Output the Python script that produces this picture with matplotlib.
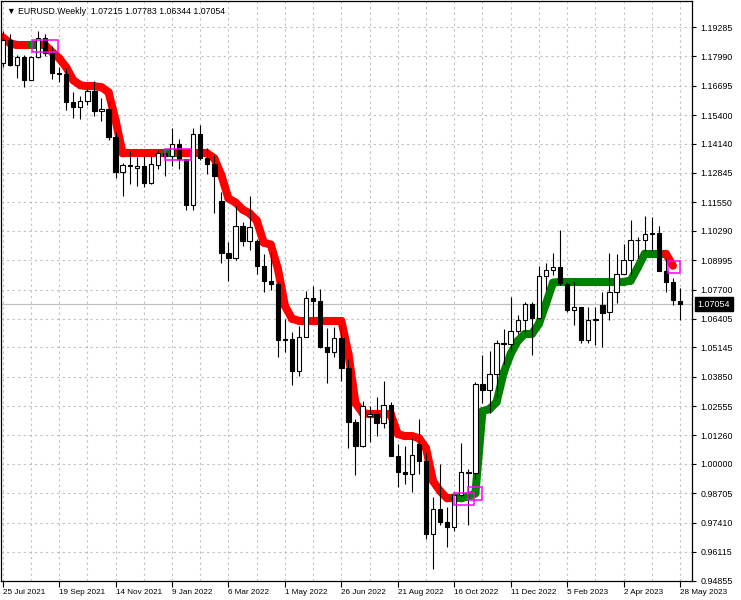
import numpy as np
import matplotlib
matplotlib.use('Agg')
import matplotlib.pyplot as plt
from matplotlib.collections import LineCollection
from matplotlib.patches import Rectangle
import matplotlib.transforms as mtransforms

plt.rcParams['font.family'] = ['Liberation Sans', 'DejaVu Sans']

# weekly EURUSD candles, 25 Jul 2021 .. 28 May 2023
opens = [1.1771, 1.1870, 1.1762, 1.1795, 1.1697, 1.1795, 1.1882, 1.1813, 1.1726, 1.1720,
         1.1596, 1.1574, 1.1603, 1.1645, 1.1558, 1.1567, 1.1444, 1.1288, 1.1318, 1.1308,
         1.1317, 1.1240, 1.1318, 1.1372, 1.1360, 1.1412, 1.1344, 1.1145, 1.1456, 1.1349,
         1.1322, 1.1160, 1.0930, 1.0911, 1.1050, 1.0985, 1.0985, 1.0875, 1.0808, 1.0795,
         1.0545, 1.0550, 1.0412, 1.0562, 1.0732, 1.0720, 1.0518, 1.0495, 1.0555, 1.0425,
         1.0185, 1.0080, 1.0212, 1.0222, 1.0181, 1.0259, 1.0036, 0.9965, 0.9955, 1.0090,
         1.0015, 0.9690, 0.9800, 0.9743, 0.9722, 0.9862, 0.9966, 0.9960, 1.0355, 1.0325,
         1.0398, 1.0535, 1.0530, 1.0585, 1.0635, 1.0705, 1.0645, 1.0830, 1.0857, 1.0870,
         1.0795, 1.0680, 1.0695, 1.0547, 1.0635, 1.0700, 1.0670, 1.0760, 1.0838, 1.0900,
         1.0990, 1.0988, 1.1015, 1.1020, 1.0850, 1.0805, 1.07215]
highs = [1.1909, 1.1900, 1.1805, 1.1805, 1.1802, 1.1909, 1.1900, 1.1846, 1.1753, 1.1750,
         1.1640, 1.1624, 1.1669, 1.1692, 1.1616, 1.1600, 1.1464, 1.1330, 1.1383, 1.1355,
         1.1360, 1.1359, 1.1386, 1.1376, 1.1482, 1.1436, 1.1347, 1.1483, 1.1495, 1.1395,
         1.1366, 1.1200, 1.0980, 1.1137, 1.1070, 1.1185, 1.0995, 1.0925, 1.0936, 1.0805,
         1.0641, 1.0581, 1.0607, 1.0765, 1.0787, 1.0774, 1.0602, 1.0606, 1.0615, 1.0465,
         1.0200, 1.0279, 1.0255, 1.0294, 1.0368, 1.0273, 1.0090, 1.0079, 1.0113, 1.0198,
         1.0050, 0.9852, 0.9999, 0.9809, 0.9875, 1.0094, 0.9976, 1.0363, 1.0481, 1.0497,
         1.0545, 1.0595, 1.0736, 1.0658, 1.0713, 1.0713, 1.0875, 1.0887, 1.0930, 1.1033,
         1.0805, 1.0805, 1.0695, 1.0694, 1.0693, 1.0760, 1.0930, 1.0925, 1.0973, 1.1076,
         1.1000, 1.1095, 1.1092, 1.1050, 1.0905, 1.0820, 1.07783]
lows = [1.1752, 1.1755, 1.1705, 1.1664, 1.1693, 1.1790, 1.1802, 1.1700, 1.1686, 1.1563,
        1.1528, 1.1523, 1.1585, 1.1535, 1.1513, 1.1431, 1.1263, 1.1185, 1.1235, 1.1226,
        1.1221, 1.1235, 1.1301, 1.1272, 1.1314, 1.1302, 1.1121, 1.1121, 1.1341, 1.1280,
        1.1106, 1.0885, 1.0806, 1.0900, 1.0962, 1.0945, 1.0838, 1.0757, 1.0770, 1.0472,
        1.0492, 1.0349, 1.0389, 1.0560, 1.0627, 1.0510, 1.0359, 1.0470, 1.0365, 1.0072,
        0.9952, 1.0075, 1.0097, 1.0123, 1.0159, 1.0035, 0.9900, 0.9910, 0.9877, 0.9956,
        0.9670, 0.9536, 0.9730, 0.9632, 0.9705, 0.9853, 0.9730, 0.9935, 1.0270, 1.0223,
        1.0289, 1.0443, 1.0500, 1.0575, 1.0580, 1.0482, 1.0640, 1.0766, 1.0835, 1.0790,
        1.0670, 1.0613, 1.0533, 1.0535, 1.0525, 1.0516, 1.0634, 1.0712, 1.0838, 1.0832,
        1.0910, 1.0942, 1.0940, 1.0850, 1.0760, 1.0700, 1.06344]
closes = [1.1870, 1.1762, 1.1795, 1.1697, 1.1795, 1.1882, 1.1813, 1.1726, 1.1720, 1.1596,
          1.1574, 1.1603, 1.1645, 1.1558, 1.1567, 1.1444, 1.1288, 1.1318, 1.1315, 1.1317,
          1.1240, 1.1324, 1.1372, 1.1360, 1.1412, 1.1344, 1.1145, 1.1456, 1.1349, 1.1322,
          1.1270, 1.0930, 1.0911, 1.1050, 1.0985, 1.1045, 1.0875, 1.0808, 1.0795, 1.0545,
          1.0550, 1.0412, 1.0562, 1.0732, 1.0720, 1.0518, 1.0495, 1.0555, 1.0425, 1.0185,
          1.0080, 1.0255, 1.0222, 1.0181, 1.0259, 1.0036, 0.9965, 0.9955, 1.0040, 1.0015,
          0.9690, 0.9800, 0.9743, 0.9722, 0.9862, 0.9966, 0.9960, 1.0355, 1.0325, 1.0398,
          1.0535, 1.0530, 1.0585, 1.0635, 1.0705, 1.0645, 1.0830, 1.0857, 1.0870, 1.0800,
          1.0680, 1.0695, 1.0547, 1.0635, 1.0640, 1.0665, 1.0760, 1.0838, 1.0900, 1.0990,
          1.0988, 1.1015, 1.1020, 1.0850, 1.0805, 1.0722, 1.07054]

# trend line (one value per bar, last bar has none)
trend = [1.1884, 1.1858, 1.1849, 1.1849, 1.1849, 1.1849, 1.1849, 1.1818, 1.1791, 1.1751,
         1.1694, 1.1672, 1.1667, 1.1667, 1.1663, 1.1641, 1.1517, 1.1371, 1.1371, 1.1371,
         1.1371, 1.1371, 1.1371, 1.1371, 1.1371, 1.1371, 1.1371, 1.1371, 1.1371, 1.1371,
         1.1349, 1.1274, 1.1172, 1.1154, 1.1123, 1.1106, 1.1075, 1.0977, 1.0968, 1.0862,
         1.0698, 1.0641, 1.0632, 1.0632, 1.0632, 1.0632, 1.0632, 1.0632, 1.0632, 1.0486,
         1.0269, 1.0225, 1.0220, 1.0220, 1.0220, 1.0220, 1.0132, 1.0123, 1.0123, 1.0114,
         1.0070, 0.9924, 0.9880, 0.9848, 0.9848, 0.9848, 0.9857, 0.9870, 1.0233, 1.0242,
         1.0273, 1.0402, 1.0486, 1.0543, 1.0574, 1.0574, 1.0618, 1.0707, 1.0800, 1.0804,
         1.0804, 1.0804, 1.0804, 1.0804, 1.0804, 1.0804, 1.0804, 1.0804, 1.0804, 1.0809,
         1.0866, 1.0928, 1.0928, 1.0928, 1.0928, 1.0875]
up_spans = [(4, 6), (23, 25), (64, 94)]   # bar ranges where the line is green

# signal boxes: bar from, bar to, price low, price high
boxes = [(4.11, 7.88, 1.1819, 1.1871),
         (23.0, 26.69, 1.1340, 1.1392),
         (63.97, 66.8, 0.98174, 0.98705),
         (65.95, 67.94, 0.98396, 0.98971),
         (94.3, 96.0, 1.0844, 1.0897)]

date_labels = ['25 Jul 2021', '19 Sep 2021', '14 Nov 2021', '9 Jan 2022', '6 Mar 2022',
               '1 May 2022', '26 Jun 2022', '21 Aug 2022', '16 Oct 2022', '11 Dec 2022',
               '5 Feb 2023', '2 Apr 2023', '28 May 2023']
price_ticks = [1.19285, 1.17990, 1.16695, 1.15400, 1.14140, 1.12845, 1.11550, 1.10290,
               1.08995, 1.07700, 1.06405, 1.05145, 1.03850, 1.02555, 1.01260, 1.00000,
               0.98705, 0.97410, 0.96115, 0.94855]
last_price = 1.07054

fig = plt.figure(figsize=(7.41, 6.0), dpi=100)
ax = fig.add_axes([1 / 741, 19 / 600, 691 / 741, 580 / 600])

x = np.arange(len(opens))
o = np.array(opens); h = np.array(highs); l = np.array(lows); c = np.array(closes)

# grid
for gx in range(0, 97, 4):
    ax.axvline(gx, color='#c0c0c0', lw=0.8, ls=(0, (2, 3)), zorder=0)
for gy in price_ticks:
    ax.axhline(gy, color='#c0c0c0', lw=0.8, ls=(0, (2, 3)), zorder=0)
ax.axhline(last_price, color='#c0c0c0', lw=0.9, zorder=0.5)

# trend line, red / green pieces
pts = np.column_stack([np.arange(len(trend)), trend])
segs = [pts[i:i + 2] for i in range(len(trend) - 1)]
cols = []
for i in range(len(trend) - 1):
    up = any(a <= i < b for a, b in up_spans)
    cols.append('#008000' if up else '#ff0000')
lc = LineCollection(segs, colors=cols, linewidths=5.8, capstyle='round',
                    joinstyle='round', zorder=2)
ax.add_collection(lc)

# candles
ax.vlines(x, l, h, color='black', lw=0.8, zorder=3)
bull = c >= o
ax.bar(x, np.abs(c - o), bottom=np.minimum(o, c), width=0.62,
       color=np.where(bull, 'white', 'black'), edgecolor='black', lw=0.8, zorder=4)

for x0, x1, y0, y1 in boxes:
    ax.add_patch(Rectangle((x0, y0), x1 - x0, y1 - y0, fill=False,
                           edgecolor='#ff00ff', lw=1.1, zorder=5))

ax.set_xlim(-0.241, 97.70)
ax.set_ylim(0.94833, 1.20436)

ax.yaxis.tick_right()
ax.set_yticks(price_ticks)
ax.set_yticklabels(['%.5f' % v for v in price_ticks])
ax.set_xticks(range(0, 97, 8))
ax.set_xticklabels(date_labels, ha='left')
ax.tick_params(axis='y', length=3, width=0.8, pad=3, labelsize=6.4, direction='out')
ax.tick_params(axis='x', length=4, width=0.8, pad=2, labelsize=5.9, direction='out')
for s in ax.spines.values():
    s.set_linewidth(0.9)
    s.set_color('black')

# last price tag on the right axis
trans = mtransforms.blended_transform_factory(ax.transAxes, ax.transData)
ax.text(1.008, last_price, '%.5f' % last_price, transform=trans, ha='left', va='center',
        fontsize=6.4, color='white', zorder=6, clip_on=False,
        bbox=dict(boxstyle='square,pad=0.3', fc='black', ec='black'))

ax.text(0.008, 0.99, '\u25bc EURUSD.Weekly  %.5f %.5f %.5f %.5f' % (opens[-1], highs[-1], lows[-1], closes[-1]),
        transform=ax.transAxes, ha='left', va='top', fontsize=6.3, color='black')

fig.savefig('out.png', dpi=100)
